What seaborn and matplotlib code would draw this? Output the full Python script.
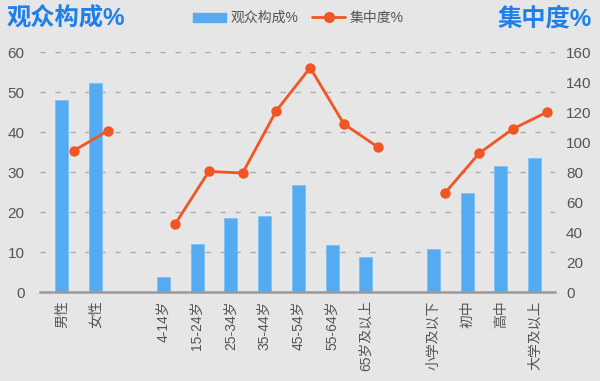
import matplotlib
matplotlib.use("Agg")
import matplotlib.pyplot as plt
import pandas as pd
import seaborn as sns
from matplotlib.lines import Line2D
from matplotlib.patches import Patch

# data
categories = ["男性", "女性",
              "4-14岁", "15-24岁", "25-34岁", "35-44岁", "45-54岁", "55-64岁", "65岁及以上",
              "小学及以下", "初中", "高中", "大学及以上"]
groups = ["性别"] * 2 + ["年龄"] * 7 + ["学历"] * 4
audience_share = [48.0, 52.2,
                  3.8, 11.9, 18.4, 19.1, 26.8, 11.8, 8.7,
                  10.7, 24.8, 31.5, 33.4]
concentration = [94.2, 107.3,
                 45.2, 80.4, 79.3, 120.9, 149.5, 112.0, 96.7,
                 66.2, 92.4, 108.7, 119.8]

BAR = "#55abf2"
LINE = "#ef5623"
TITLE = "#1f7fe8"
TEXT = "#555555"
BG = "#e6e6e6"

# slot positions, one empty slot between groups
slots = [0, 1, 3, 4, 5, 6, 7, 8, 9, 11, 12, 13, 14]

df = pd.DataFrame({
    "cat": categories,
    "group": groups,
    "pos": slots,
    "share": audience_share,
    "conc": concentration,
})
df["line_pos"] = df["pos"] + 0.35

sns.set_theme(style="white")
plt.rcParams["font.family"] = ["Liberation Sans", "Noto Sans CJK SC", "DejaVu Sans"]

fig = plt.figure(figsize=(6, 3.81), dpi=100, facecolor=BG)
ax = fig.add_axes([40 / 600, 1 - 292 / 381, 515 / 600, 240 / 381])
ax.set_facecolor(BG)

sns.barplot(data=df, x="pos", y="share", native_scale=True, width=0.385,
            color=BAR, saturation=1, edgecolor="#7cc0f5", linewidth=0.6, ax=ax)

ax.set_ylim(0, 60)
ax.set_yticks(range(0, 61, 10))
ax.set_xlim(-0.65, 14.6)
ax.set_xticks(slots)
ax.set_xticklabels(categories, rotation=90, fontsize=10, color=TEXT)
ax.tick_params(axis="y", labelsize=11, colors=TEXT, length=0, pad=11)
ax.tick_params(axis="x", length=0, pad=6)
ax.set_xlabel("")
ax.set_ylabel("")
for y in range(10, 61, 10):
    ax.axhline(y, color="#aaaaaa", lw=1, ls=(0, (3.8, 7)), zorder=0)
for s in ["top", "right", "left"]:
    ax.spines[s].set_visible(False)
ax.spines["bottom"].set_color("#999999")
ax.spines["bottom"].set_linewidth(1.8)

ax2 = ax.twinx()
for g in ["性别", "年龄", "学历"]:
    sub = df[df["group"] == g]
    sns.lineplot(data=sub, x="line_pos", y="conc", color=LINE, lw=2,
                 marker="o", markersize=7.5, markeredgewidth=0, ax=ax2,
                 estimator=None, sort=False)
ax2.set_ylim(0, 160)
ax2.set_yticks(range(0, 161, 20))
ax2.tick_params(axis="y", labelsize=11, colors=TEXT, length=0, pad=8)
ax2.set_ylabel("")
ax2.set_xlabel("")
for s in ["top", "right", "left", "bottom"]:
    ax2.spines[s].set_visible(False)
ax2.grid(False)

fig.text(7 / 600, 1 - 19 / 381, "观众构成%", color=TITLE, fontsize=17.5,
         fontweight="bold", va="center", ha="left")
fig.text(592 / 600, 1 - 19 / 381, "集中度%", color=TITLE, fontsize=17.5,
         fontweight="bold", va="center", ha="right")

handles = [Patch(facecolor=BAR, edgecolor=BAR),
           Line2D([], [], color=LINE, lw=2, marker="o", markersize=7)]
fig.legend(handles, ["观众构成%", "集中度%"], loc="center",
           bbox_to_anchor=(298 / 600, 1 - 18 / 381), ncol=2, frameon=False,
           fontsize=10, labelcolor=TEXT, handlelength=2.4, handletextpad=0.3,
           columnspacing=1.0, handleheight=0.6)

fig.savefig("out.png", dpi=100, facecolor=BG)
